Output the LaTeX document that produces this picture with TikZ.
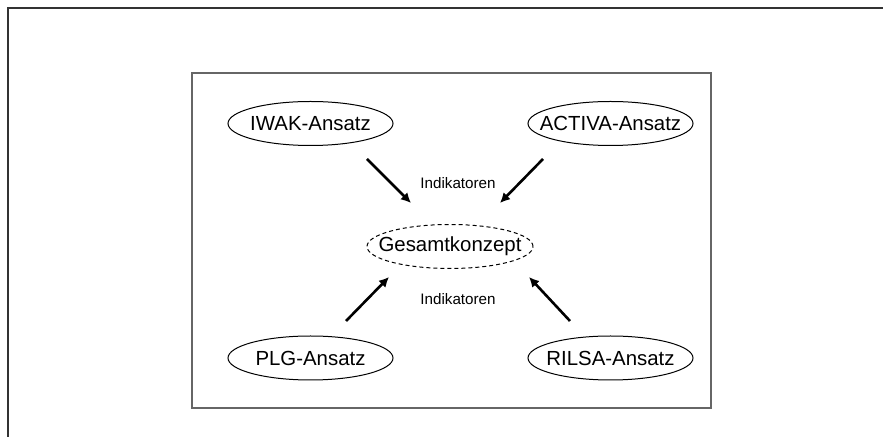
\documentclass[tikz,border=0pt]{standalone}
\usepackage{fontspec}
\setmainfont{Liberation Sans}
\usetikzlibrary{shapes.geometric,arrows.meta}
\tikzset{
    ansatz/.style={ellipse, draw, line width=0.5pt, inner sep=0pt, minimum width=82.5pt, minimum height=22pt, font=\fontsize{10.2}{12}\selectfont},
    konzept/.style={ansatz, minimum width=83pt, dash pattern=on 2pt off 1.5pt},
    pfeil/.style={line width=1.3pt, -{Latex[length=5pt,width=5pt]}},
    marke/.style={font=\fontsize{7.6}{9}\selectfont},
    rahmen/.style={draw=black!80, line width=1pt},
    kasten/.style={draw=black!60, line width=0.6pt}
}
\begin{document}
\begin{tikzpicture}[x=0.5pt, y=-0.5pt]
\useasboundingbox (0,0) rectangle (883,437);
\draw[rahmen] (8,437) -- (8,8) -- (883,8);
\draw[kasten] (192,73) rectangle (711,408);

\node[ansatz] (iwak) at (310.5,123.5) {\makebox[0pt]{IWAK-Ansatz}};
\node[ansatz] (activa) at (610.5,123.5) {\makebox[0pt]{ACTIVA-Ansatz}};
\node[konzept] (gesamt) at (450,246.5) {\makebox[0pt]{Gesamtkonzept}};
\node[ansatz] (plg) at (310.5,358) {\makebox[0pt]{PLG-Ansatz}};
\node[ansatz] (rilsa) at (610.5,358) {\makebox[0pt]{RILSA-Ansatz}};

\node[marke] (ind1) at (458,183) {Indikatoren};
\node[marke] (ind2) at (458,299) {Indikatoren};

% Pfeile zum Gesamtkonzept
\coordinate (p1a) at (367,159);
\coordinate (p1b) at (411,203);
\coordinate (p2a) at (543,159);
\coordinate (p2b) at (500,203);
\coordinate (p3a) at (346,321);
\coordinate (p3b) at (389,277);
\coordinate (p4a) at (570,321);
\coordinate (p4b) at (529,277);
\draw[pfeil] (p1a) -- (p1b);
\draw[pfeil] (p2a) -- (p2b);
\draw[pfeil] (p3a) -- (p3b);
\draw[pfeil] (p4a) -- (p4b);
\end{tikzpicture}
\end{document}
